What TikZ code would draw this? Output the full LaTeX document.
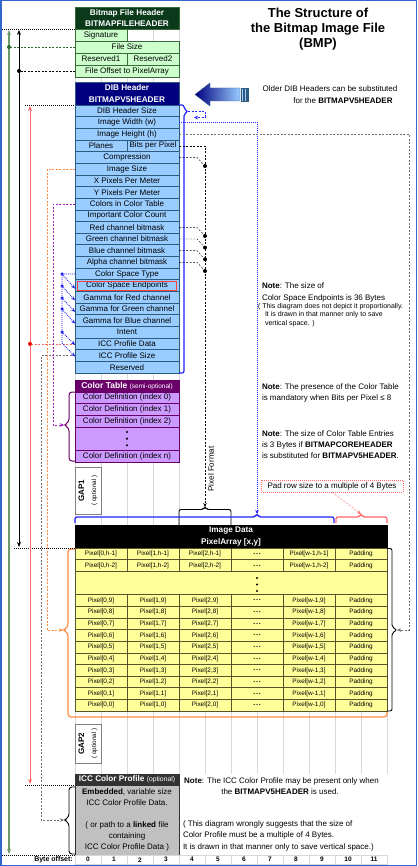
\documentclass[tikz,border=0pt]{standalone}
\usepackage{fontspec}
\setmainfont{Liberation Sans}
\usetikzlibrary{arrows.meta}
\definecolor{fhT}{HTML}{0A3A1A}
\definecolor{fhF}{HTML}{CCFFCC}
\definecolor{fhB}{HTML}{3A6A3A}
\definecolor{dbT}{HTML}{00007F}
\definecolor{dbF}{HTML}{99CCFF}
\definecolor{dbB}{HTML}{2E5A80}
\definecolor{ctT}{HTML}{6B006B}
\definecolor{ctF}{HTML}{CC99FF}
\definecolor{ctB}{HTML}{660066}
\definecolor{pxF}{HTML}{FFFF99}
\definecolor{pxB}{HTML}{55552A}
\definecolor{iccT}{HTML}{333333}
\definecolor{iccF}{HTML}{C0C0C0}
\definecolor{gridc}{HTML}{D8D8D8}
\definecolor{frameblue}{HTML}{3366CC}
\definecolor{lnblue}{HTML}{2222FF}
\definecolor{lnred}{HTML}{FF6666}
\definecolor{lnorange}{HTML}{FF8C40}
\definecolor{lnpurple}{HTML}{A020C0}
\definecolor{lngray}{HTML}{707070}
\definecolor{lngreen}{HTML}{6A9A6A}
\definecolor{dkgreen}{HTML}{2E6B2E}
\newcommand\mybox[7]{\node[#6, minimum width={(#4)-(#2)}, minimum height={(#5)-(#3)}] (#1) at ({((#2)+(#4))/2},{((#3)+(#5))/2}) {#7};}
\newcommand\fs[2]{\fontsize{#1}{#2}\selectfont}
\newcommand\mydots{{\fs{7}{7}\bfseries .\hspace{0.8pt}.\hspace{0.8pt}.}}
\begin{document}
\begin{tikzpicture}[x=1pt,y=-1pt,
  cellbase/.style={inner sep=0pt, outer sep=0pt, align=center, line width=0.7pt},
  fhtitle/.style={cellbase, draw=fhB, fill=fhT, text=white, font=\fs{8.2}{11.5}\bfseries},
  fhrow/.style={cellbase, draw=fhB, fill=fhF, font=\fs{8}{9}},
  dbtitle/.style={cellbase, draw=dbB, fill=dbT, text=white, font=\fs{8.2}{11.5}\bfseries},
  dbrow/.style={cellbase, draw=dbB, fill=dbF, font=\fs{8}{9}},
  cttitle/.style={cellbase, draw=ctB, fill=ctT, text=white, font=\fs{8.5}{9}\bfseries},
  ctrow/.style={cellbase, draw=ctB, fill=ctF, font=\fs{8}{9}},
  pxtitle/.style={cellbase, draw=black, fill=black, text=white, font=\fs{8.2}{11.5}\bfseries},
  pxcell/.style={cellbase, draw=pxB, fill=pxF, font=\fs{6.4}{7}},
  gapbox/.style={cellbase, draw=gray, fill=white, line width=0.8pt},
  icctitle/.style={cellbase, draw=iccT, fill=iccT, text=white, font=\fs{8.2}{9}\bfseries},
  iccbody/.style={cellbase, draw=iccT, fill=iccF, font=\fs{8}{11}},
  bytecell/.style={cellbase, draw=gridc, fill=white, font=\fs{6.5}{7}\bfseries},
  notetxt/.style={inner sep=0pt, outer sep=0pt, anchor=base west, font=\fs{8}{11}},
  smalltxt/.style={inner sep=0pt, outer sep=0pt, anchor=base west, font=\fs{7}{8.5}},
  arr/.style={-{Stealth[length=4pt,width=3.5pt]}},
  dbl/.style={{Stealth[length=5pt,width=4pt]}-{Stealth[length=5pt,width=4pt]}},
  bdot/.style={circle, fill=#1, inner sep=0pt, minimum size=4pt},
  dsh/.style={dash pattern=on 2pt off 1.5pt},
  dtt/.style={dash pattern=on 1pt off 1pt},
]
\useasboundingbox (0,0) rectangle (417,866);
\fill[white] (0,0) rectangle (417,866);
% grid lines
\foreach \k in {0,...,4} \draw[gridc, line width=0.8pt] ({75+26*\k},29) -- ({75+26*\k},525);
\foreach \k in {0,...,12} \draw[gridc, line width=0.8pt] ({75+26*\k},711) -- ({75+26*\k},774);

% title
\node[anchor=base, inner sep=0, font=\fs{13}{15}\bfseries] (t1) at (318,17.7) {The Structure of};
\node[anchor=base, inner sep=0, font=\fs{13}{15}\bfseries] (t2) at (318,32.7) {the Bitmap Image File};
\node[anchor=base, inner sep=0, font=\fs{13}{15}\bfseries] (t3) at (318,47.7) {(BMP)};

% file header
\mybox{fht}{75}{7}{179}{29}{fhtitle}{Bitmap File Header\\BITMAPFILEHEADER}
\mybox{fsig}{75}{29}{127}{41}{fhrow}{Signature}
\mybox{fsz}{75}{41}{179}{53}{fhrow}{File Size}
\mybox{fr1}{75}{53}{127}{65}{fhrow}{Reserved1}
\mybox{fr2}{127}{53}{179}{65}{fhrow}{Reserved2}
\mybox{foff}{75}{65}{179}{77}{fhrow}{File Offset to PixelArray}

% DIB header
\mybox{dbt}{75}{82}{179}{105}{dbtitle}{DIB Header\\BITMAPV5HEADER}
\foreach \i/\t in {0/DIB Header Size,1/Image Width (w),2/Image Height (h),4/Compression,5/Image Size,6/X Pixels Per Meter,7/Y Pixels Per Meter,8/Colors in Color Table,9/Important Color Count,10/Red channel bitmask,11/Green channel bitmask,12/Blue channel bitmask,13/Alpha channel bitmask,14/Color Space Type,15/Color Space Endpoints,16/Gamma for Red channel,17/Gamma for Green channel,18/Gamma for Blue channel,19/Intent,20/ICC Profile Data,21/ICC Profile Size,22/Reserved}{
  \pgfmathsetmacro\ya{105+11.652*\i}
  \pgfmathsetmacro\yb{105+11.652*(\i+1)}
  \mybox{d\i}{75}{\ya}{179}{\yb}{dbrow}{\t}
}
\mybox{d3a}{75}{139.956}{127}{151.608}{dbrow}{Planes}
\mybox{d3}{127}{139.956}{179}{151.608}{dbrow}{Bits per Pixel}
\draw[red!75!white, line width=0.8pt] (77.5,281.5) rectangle (176.5,290);

% big arrow
\shadedraw[left color=dbT, right color=dbF, draw=dbB, line width=0.4pt] (195,94.5) -- (210,83) -- (210,88) -- (240,88) -- (240,101) -- (210,101) -- (210,106) -- cycle;
\foreach \xa/\xb in {241/243,244/246,247/248.5} \draw[dbB, fill=dbF, line width=0.3pt] (\xa,88) rectangle (\xb,101);
\node[anchor=base, inner sep=0, font=\fs{8}{9}] (old1) at (330,92) {Older DIB Headers can be substituted};
\node[anchor=base, inner sep=0, font=\fs{8}{9}] (old2) at (343,104) {for the \textbf{BITMAPV5HEADER}};

% color table
\mybox{ctt}{75}{380}{179}{392}{cttitle}{Color Table {\fs{6.5}{7}\mdseries (semi-optional)}}
\mybox{ct0}{75}{392}{179}{403.65}{ctrow}{Color Definition (index 0)}
\mybox{ct1}{75}{403.65}{179}{415.3}{ctrow}{Color Definition (index 1)}
\mybox{ct2}{75}{415.3}{179}{426.95}{ctrow}{Color Definition (index 2)}
\mybox{ctd}{75}{426.95}{179}{450.25}{ctrow}{}
\mybox{ctn}{75}{450.25}{179}{461.9}{ctrow}{Color Definition (index n)}
\foreach \yy in {432,438.6,445.2} \fill (127,\yy) circle (1.2);

% gaps
\mybox{gap1}{75}{467}{101}{514}{gapbox}{}
\node[rotate=90, align=center, inner sep=0] (g1t) at (gap1.center) {{\fs{8}{10}\bfseries GAP1}\\{\fs{6.3}{7}( optional )}};
\mybox{gap2}{75}{724}{101}{763}{gapbox}{}
\node[rotate=90, align=center, inner sep=0] (g2t) at (gap2.center) {{\fs{8}{10}\bfseries GAP2}\\{\fs{6.3}{7}( optional )}};

% image data
\mybox{imt}{75}{525}{387}{548}{pxtitle}{Image Data\\PixelArray [x,y]}
\foreach \k/\r in {0/h-1,1/h-2,4/9,5/8,6/7,7/6,8/5,9/4,10/3,11/2,12/1,13/0}{
  \pgfmathsetmacro\ya{548+11.652*\k}
  \pgfmathsetmacro\yb{548+11.652*(\k+1)}
  \mybox{pxa\k}{75}{\ya}{127}{\yb}{pxcell}{Pixel[0,\r]}
  \mybox{pxb\k}{127}{\ya}{179}{\yb}{pxcell}{Pixel[1,\r]}
  \mybox{pxc\k}{179}{\ya}{231}{\yb}{pxcell}{Pixel[2,\r]}
  \mybox{pxd\k}{231}{\ya}{283}{\yb}{pxcell}{\mydots}
  \mybox{pxe\k}{283}{\ya}{335}{\yb}{pxcell}{Pixel[w-1,\r]}
  \mybox{pxf\k}{335}{\ya}{387}{\yb}{pxcell}{Padding}
}
\mybox{pxdots}{75}{571.3}{387}{594.6}{pxcell}{}
\foreach \yy in {578,584.5,591} \fill (257,\yy) circle (1.2);

% ICC profile
\mybox{icct}{75}{774}{179}{785}{icctitle}{ICC Color Profile {\fs{6.8}{7}\mdseries (optional)}}
\mybox{iccb}{75}{785}{179}{855}{iccbody}{\textbf{Embedded}, variable size\\ICC Color Profile Data.\\[11pt]( or path to a \textbf{linked} file\\containing\\ICC Color Profile Data )}

% byte offsets
\foreach \k in {0,...,11} {\mybox{b\k}{75+26*\k}{855.5}{101+26*\k}{864}{bytecell}{\k}}
\node[anchor=east, inner sep=0, font=\fs{7}{8}\bfseries] (bol) at (73,860) {Byte offset:};

% notes
\node[notetxt] (n1a) at (262,288) {\textbf{Note}: The size of};
\node[notetxt] (n1b) at (262,300) {Color Space Endpoints is 36 Bytes};
\node[smalltxt] (n1c) at (258,308.5) {( This diagram does not depict it proportionally.};
\node[smalltxt] (n1d) at (265,316.5) {It is drawn in that manner only to save};
\node[smalltxt] (n1e) at (265,325.5) {vertical space. )};
\node[notetxt] (n2a) at (262,389) {\textbf{Note}: The presence of the Color Table};
\node[notetxt] (n2b) at (262,400) {is mandatory when Bits per Pixel ≤ 8};
\node[notetxt] (n3a) at (262,436) {\textbf{Note}: The size of Color Table Entries};
\node[notetxt] (n3b) at (262,447) {is 3 Bytes if \textbf{BITMAPCOREHEADER}};
\node[notetxt] (n3c) at (262,458) {is substituted for \textbf{BITMAPV5HEADER}.};
\node[draw=lnred, dtt, inner sep=0, minimum width=142, minimum height=12, font=\fs{8}{9}] (pad) at (332,486) {Pad row size to a multiple of 4 Bytes};
\node[anchor=base, inner sep=0, font=\fs{8}{9}] (n4a) at (281.5,783) {\textbf{Note}: The ICC Color Profile may be present only when};
\node[anchor=base, inner sep=0, font=\fs{8}{9}] (n4b) at (280,794) {the \textbf{BITMAPV5HEADER} is used.};
\node[notetxt] (n4c) at (183,826) {( This diagram wrongly suggests that the size of};
\node[notetxt] (n4d) at (183,837.5) {Color Profile must be a multiple of 4 Bytes.};
\node[notetxt] (n4e) at (183,849) {It is drawn in that manner only to save vertical space.)};
\node[rotate=90, inner sep=0, font=\fs{8}{9}] (pf) at (211,469) {Pixel Format};

% coordinates
\coordinate (xg) at (9,0);
\coordinate (xk) at (19,0);
\coordinate (xr) at (30,0);
\coordinate (xgr) at (41,0);
\coordinate (xo) at (47,0);
\coordinate (xp) at (53,0);
\coordinate (xb) at (62,0);
\coordinate (fsTop) at (2,29);
\coordinate (fsBot) at (2,855);
\coordinate (pxStart) at (14,548);
\coordinate (dbStart) at (25,105);
\coordinate (icStart) at (25,785);
\coordinate (iccTip) at (64,820);
\coordinate (pxTip) at (63,630);
\coordinate (ctTip) at (64,425);
\coordinate (pfTip) at (205,507);
\coordinate (bbTip) at (257,514);
\coordinate (redTip) at (361,514);
\coordinate (rbTip) at (397,630);
\coordinate (grCorner) at (409,630);
\coordinate (dibTip) at (188,111.5);

% braces
\draw[lnblue, line width=1.2pt, rounded corners=2] (179,105) -- (184,105) -- (184,109) -- (dibTip) -- (184,114) -- (184,373) -- (179,373);
\draw[line width=0.9pt, rounded corners=2] (179,525) -- (179,509.5) -- (203,509.5) -- (pfTip) -- (207,509.5) -- (231,509.5) -- (231,525);
\draw[lnblue, line width=1.2pt, rounded corners=2] (75,523) -- (75,517) -- (255,517) -- (bbTip) -- (259,517) -- (334,517) -- (334,523);
\draw[lnred, line width=1.2pt, rounded corners=2] (336,523) -- (336,517) -- (359,517) -- (redTip) -- (363,517) -- (387,517) -- (387,523);
\draw[lnorange, line width=1.2pt, rounded corners=3] (75,549) -- (68,549) -- (68,627) -- (pxTip) -- (68,633) -- (68,717) -- (387,717) -- (387,712);
\draw[line width=0.9pt, rounded corners=2] (387,548.5) -- (392,548.5) -- (392,627) -- (rbTip) -- (392,633) -- (392,711) -- (387,711);
\draw[ctB, line width=1pt, rounded corners=3] (75,392) -- (69,392) -- (69,422) -- (ctTip) -- (69,428) -- (69,461) -- (75,461);
\draw[line width=0.9pt, rounded corners=3] (75,787) -- (69,787) -- (69,817) -- (iccTip) -- (69,823) -- (69,854) -- (75,854);

% left connectors
\draw[dtt, line width=0.7pt] (fsTop) -- (fht.south west);
\draw[dtt, line width=0.7pt] (fsBot) -- (iccb.south west);
\draw[dtt, line width=0.7pt] (pxStart) -- (pxa0.north west);
\draw[dtt, line width=0.7pt] (dbStart) -- (d0.north west);
\draw[dtt, line width=0.7pt] (icStart) -- (iccb.north west);
\draw[lngreen, line width=1.1pt, dbl] (9,30) -- (9,854);
\draw[dkgreen, dsh] (fsz.west) -- (fsz.west -| xg) node[bdot=dkgreen]{};
\draw[line width=0.9pt, dbl] (19,30) -- (19,547);
\draw[dsh] (foff.west) -- (foff.west -| xk) node[bdot=black]{};
\draw[lnred, line width=1pt, dbl] (30,106) -- (30,784);
\draw[lnred, dsh] (d20.west) -- (d20.west -| xr) node[bdot=red]{};
\draw[lngray, dsh, arr] (d21.west) -| (xgr |- iccTip) -- (iccTip);
\draw[lnorange, dsh, arr] (d5.west) -| (xo |- pxTip) -- (pxTip);
\draw[lnpurple, dsh, arr] (d8.west) -| (xp |- ctTip) -- (ctTip);
% color space links
\coordinate (bd1) at (62,274);
\coordinate (bd2) at (62,286);
\coordinate (bd3) at (62,298);
\coordinate (bd4) at (62,309);
\coordinate (bd5) at (62,332);
\coordinate (bd6) at (62,343);
\draw[lnblue, dtt, line width=0.8pt] (d14.west) -- (bd1) -- (bd6);
\foreach \c in {bd1,bd2,bd3,bd4,bd5} \node[bdot=lnblue, minimum size=3.5pt] at (\c) {};
\draw[lnblue, dtt, line width=0.8pt, arr] (bd1) -- ([yshift=-3pt]d15.west);
\draw[lnblue, dtt, line width=0.8pt, arr] (bd2) -- ([yshift=-3pt]d16.west);
\draw[lnblue, dtt, line width=0.8pt, arr] (bd3) -- ([yshift=-3pt]d17.west);
\draw[lnblue, dtt, line width=0.8pt, arr] (bd4) -- ([yshift=-3pt]d18.west);
\draw[lnblue, dtt, line width=0.8pt, arr] (bd5) -- ([yshift=-1pt]d20.west);
\draw[lnblue, dtt, line width=0.8pt, arr] (bd6) -- ([yshift=-1pt]d21.west);

% right connectors
\draw[lnblue, dsh, arr] (dibTip) -- ++(17,0) -- ++(0,6) -- ++(-11,0);
\draw[lnblue, dtt, line width=0.8pt, arr] (d1.east) -| (bbTip);
\draw[lngray, dsh, arr] (d2.east) -| (grCorner) -- (rbTip);
\draw[dsh, arr] (d3.east) -| (pfTip);
\foreach \i/\yy in {4/166,10/236,11/247.6,12/259.3,13/271} {
  \draw[dsh] (d\i.east) -- ++(18,0) -- (205,\yy) node[bdot=black]{};
}
\draw[lnred, dsh, arr] (pad.south) -- (redTip);

% frame
\draw[frameblue, line width=1.5pt] (0.75,0.75) rectangle (416.25,865.25);
\end{tikzpicture}
\end{document}
